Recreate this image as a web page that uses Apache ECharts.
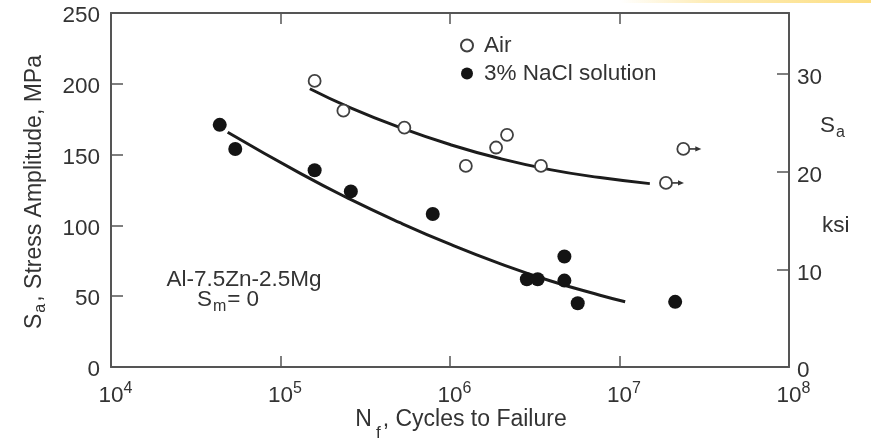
<!DOCTYPE html>
<html>
<head>
<meta charset="utf-8">
<title>S-N curves, Al-7.5Zn-2.5Mg</title>
<script src="https://cdn.jsdelivr.net/npm/echarts@6/dist/echarts.min.js"></script>
<style>
  html, body { margin: 0; padding: 0; background: #ffffff; }
  #chart { width: 871px; height: 443px; }
</style>
</head>
<body>
<div id="chart"></div>
<script>
// Fatigue test results, cycles to failure vs stress amplitude (MPa)
const airCycles = [1.59e5, 2.35e5, 5.38e5, 1.24e6, 1.87e6, 2.17e6, 3.44e6];
const airStress = [202, 181, 169, 142, 155, 164, 142];
// Runouts (specimens that did not fail)
const airRunoutCycles = [1.88e7, 2.38e7];
const airRunoutStress = [130, 154];

const naclCycles = [4.38e4, 5.41e4, 1.59e5, 2.6e5, 7.91e5, 2.84e6, 3.29e6, 4.73e6, 4.73e6, 5.67e6, 2.13e7];
const naclStress = [171, 154, 139, 124, 108, 62, 62, 78, 61, 45, 46];

// Fitted S-N curves
const airFitCycles = [1.49e5, 2.57e5, 5.07e5, 1.0e6, 1.97e6, 3.89e6, 7.67e6, 1.51e7];
const airFitStress = [196.5, 183.2, 169.1, 157.1, 147.2, 139.4, 133.8, 129.5];
const naclFitCycles = [4.88e4, 1.30e5, 2.57e5, 5.07e5, 1.0e6, 1.97e6, 3.89e6, 7.67e6, 1.08e7];
const naclFitStress = [165.8, 136.9, 118.5, 101.9, 86.7, 73.0, 60.9, 50.7, 46.1];

// Axis settings
const stressMax = 250;          // MPa
const stressTicks = 50;         // MPa
const ksiTicks = 10;            // ksi
const MPA_PER_KSI = 6.894757;
const cycleMin = 1e4;
const cycleMax = 1e8;

const seriesNames = ['Air', '3% NaCl solution'];

const font = 'Liberation Sans, Arial, Helvetica, sans-serif';
const ink = '#333333';
const axisInk = '#555555';
const fs = 22.5;

function pairs(xs, ys) { return xs.map((x, i) => [x, ys[i]]); }

const chart = echarts.init(document.getElementById('chart'), null, { renderer: 'canvas' });

const supRich = {
  b: { fontSize: fs, fontFamily: font, color: ink, lineHeight: 30 },
  s: { fontSize: 16, fontFamily: font, color: ink, lineHeight: 18, verticalAlign: 'top' },
  h: { fontSize: 16, fontFamily: font, color: 'transparent', lineHeight: 18, verticalAlign: 'top' }
};

const option = {
  backgroundColor: '#ffffff',
  animation: false,
  grid: { left: 111, right: 82, top: 13, bottom: 76, containLabel: false },
  legend: {
    data: [
      { name: seriesNames[0], icon: 'circle' },
      { name: seriesNames[1], icon: 'circle' }
    ],
    orient: 'vertical',
    left: 460,
    top: 34,
    padding: 0,
    itemWidth: 24,
    itemHeight: 12,
    itemGap: 5,
    textStyle: { fontSize: fs, fontFamily: font, color: ink }
  },
  xAxis: [
    {
      type: 'log',
      logBase: 10,
      min: cycleMin,
      max: cycleMax,
      position: 'bottom',
      axisLine: { show: true, onZero: false, lineStyle: { color: axisInk, width: 2 } },
      axisTick: { show: true, inside: true, length: 11, lineStyle: { color: axisInk, width: 1.5 } },
      minorTick: { show: false },
      splitLine: { show: false },
      axisLabel: {
        margin: 14,
        formatter: function (v) {
          const e = Math.round(Math.log10(v));
          return '{h|' + e + '}{b|10}{s|' + e + '}';
        },
        rich: supRich
      }
    },
    {
      type: 'log',
      logBase: 10,
      min: cycleMin,
      max: cycleMax,
      position: 'top',
      axisLine: { show: true, onZero: false, lineStyle: { color: axisInk, width: 2 } },
      axisTick: { show: true, inside: true, length: 11, lineStyle: { color: axisInk, width: 1.5 } },
      axisLabel: { show: false },
      splitLine: { show: false }
    }
  ],
  yAxis: [
    {
      type: 'value',
      min: 0,
      max: stressMax,
      interval: stressTicks,
      position: 'left',
      axisLine: { show: true, onZero: false, lineStyle: { color: axisInk, width: 2 } },
      axisTick: { show: true, inside: true, length: 12, lineStyle: { color: axisInk, width: 1.5 } },
      splitLine: { show: false },
      axisLabel: {
        margin: 11,
        formatter: function (v) { return '{v|' + v + '}'; },
        rich: { v: { fontSize: fs, fontFamily: font, color: ink, padding: [6, 0, 0, 0] } }
      }
    },
    {
      type: 'value',
      min: 0,
      max: stressMax / MPA_PER_KSI,
      interval: ksiTicks,
      position: 'right',
      axisLine: { show: true, onZero: false, lineStyle: { color: axisInk, width: 2 } },
      axisTick: { show: true, inside: true, length: 12, lineStyle: { color: axisInk, width: 1.5 }, customValues: [10, 20, 30] },
      splitLine: { show: false },
      axisLabel: {
        margin: 8,
        customValues: [0, 10, 20, 30],
        formatter: function (v) { return '{v|' + v + '}'; },
        rich: { v: { fontSize: fs, fontFamily: font, color: ink, padding: [8, 0, 0, 0] } }
      }
    }
  ],
  graphic: [
    {
      type: 'rect',
      silent: true,
      shape: { x: 620, y: 0, width: 251, height: 3 },
      style: {
        fill: new echarts.graphic.LinearGradient(0, 0, 1, 0, [
          { offset: 0, color: 'rgba(253, 228, 150, 0)' },
          { offset: 0.35, color: 'rgba(253, 228, 150, 0.7)' },
          { offset: 1, color: 'rgba(252, 222, 130, 1)' }
        ])
      }
    },
    {
      type: 'text',
      x: 35,
      y: 192,
      rotation: Math.PI / 2,
      style: {
        text: '{t|S}{sub|a}{t|, Stress Amplitude, MPa}',
        align: 'center',
        verticalAlign: 'middle',
        rich: {
          t: { fontSize: 23, fontFamily: font, fill: ink },
          sub: { fontSize: 16, fontFamily: font, fill: ink, padding: [12, 2, 0, 1] }
        }
      }
    },
    {
      type: 'text',
      x: 461,
      y: 420,
      style: {
        text: '{t|N}{sub|f}{t|, Cycles to Failure}',
        align: 'center',
        verticalAlign: 'middle',
        rich: {
          t: { fontSize: 23, fontFamily: font, fill: ink },
          sub: { fontSize: 17, fontFamily: font, fill: ink, padding: [26, 2, 0, 4] }
        }
      }
    },
    {
      type: 'text',
      x: 820,
      y: 126,
      style: {
        text: '{t|S}{sub|a}',
        align: 'left',
        verticalAlign: 'middle',
        rich: {
          t: { fontSize: fs, fontFamily: font, fill: ink },
          sub: { fontSize: 16, fontFamily: font, fill: ink, padding: [14, 0, 0, 1] }
        }
      }
    },
    {
      type: 'text',
      x: 822,
      y: 226,
      style: { text: 'ksi', fontSize: fs, fontFamily: font, fill: ink, align: 'left', verticalAlign: 'middle' }
    },
    {
      type: 'text',
      x: 244,
      y: 280,
      style: { text: 'Al-7.5Zn-2.5Mg', fontSize: fs, fontFamily: font, fill: ink, align: 'center', verticalAlign: 'middle' }
    },
    {
      type: 'text',
      x: 228,
      y: 300,
      style: {
        text: '{t|S}{sub|m}{t|= 0}',
        align: 'center',
        verticalAlign: 'middle',
        rich: {
          t: { fontSize: fs, fontFamily: font, fill: ink },
          sub: { fontSize: 16, fontFamily: font, fill: ink, padding: [14, 1, 0, 1] }
        }
      }
    }
  ],
  series: [
    {
      name: 'Air fit',
      type: 'line',
      data: pairs(airFitCycles, airFitStress),
      smooth: 0.5,
      showSymbol: false,
      symbol: 'none',
      silent: true,
      lineStyle: { color: '#1c1c1c', width: 3 },
      z: 2
    },
    {
      name: '3% NaCl fit',
      type: 'line',
      data: pairs(naclFitCycles, naclFitStress),
      smooth: 0.5,
      showSymbol: false,
      symbol: 'none',
      silent: true,
      lineStyle: { color: '#1c1c1c', width: 3 },
      z: 2
    },
    {
      name: 'Runout',
      type: 'custom',
      data: pairs(airRunoutCycles, airRunoutStress),
      z: 3,
      renderItem: function (params, api) {
        const p = api.coord([api.value(0), api.value(1)]);
        return {
          type: 'group',
          children: [
            {
              type: 'line',
              shape: { x1: p[0] + 6, y1: p[1], x2: p[0] + 13, y2: p[1] },
              style: { stroke: '#333', lineWidth: 1.6 }
            },
            {
              type: 'polygon',
              shape: { points: [[p[0] + 18, p[1]], [p[0] + 12, p[1] - 2.6], [p[0] + 12, p[1] + 2.6]] },
              style: { fill: '#333' }
            }
          ]
        };
      }
    },
    {
      name: seriesNames[0],
      type: 'scatter',
      data: pairs(airCycles, airStress).concat(pairs(airRunoutCycles, airRunoutStress)),
      symbol: 'circle',
      symbolSize: 12,
      itemStyle: { color: '#ffffff', borderColor: '#404040', borderWidth: 1.8, opacity: 1 },
      z: 4
    },
    {
      name: seriesNames[1],
      type: 'scatter',
      data: pairs(naclCycles, naclStress),
      symbol: 'circle',
      symbolSize: 14,
      itemStyle: { color: '#141414', opacity: 1 },
      z: 4
    }
  ]
};

chart.setOption(option);
</script>
</body>
</html>
